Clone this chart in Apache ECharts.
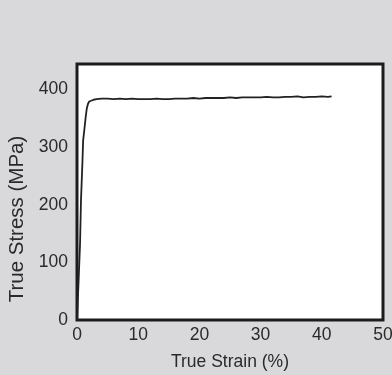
<!DOCTYPE html>
<html>
<head>
<meta charset="utf-8">
<script src="https://cdn.jsdelivr.net/npm/echarts@6/dist/echarts.min.js"></script>
<style>
  html, body { margin: 0; padding: 0; background: #d9d9db; }
  #chart { width: 392px; height: 375px; }
</style>
</head>
<body>
<div id="chart"></div>
<script>
// True strain (%) sample points
var strain = [0, 0.25, 0.5, 0.65, 0.9, 1.0, 1.2, 1.4, 1.6, 1.8, 2.0, 2.3, 2.7, 3.2,
  4, 5, 6, 7, 8, 9, 10, 11, 12, 13, 14, 15, 16, 17, 18, 19, 20, 21, 22, 23, 24,
  25, 26, 27, 28, 29, 30, 31, 32, 33, 34, 35, 36, 37, 38, 39, 40, 41, 41.6];
// True stress (MPa) at each strain point
var stress = [0, 65, 133, 207, 277, 311, 330, 350, 367, 375, 379, 381, 382, 383,
  384, 384, 383, 384, 383, 384, 383, 383, 383, 384, 383, 383, 384, 384, 384, 385,
  384, 385, 385, 385, 385, 386, 385, 386, 386, 386, 386, 387, 386, 386, 387, 387,
  388, 386, 387, 387, 388, 387, 388];

var xTicks = { min: 0, max: 50, interval: 10 };
var yTicks = { min: 0, max: 444, interval: 100 };

var font = "'Liberation Sans Narrow', 'Liberation Sans', Arial, sans-serif";

var points = strain.map(function (s, i) { return [s, stress[i]]; });

var chart = echarts.init(document.getElementById('chart'));
chart.setOption({
  backgroundColor: '#d9d9db',
  animation: false,
  grid: {
    left: 77, right: 9, top: 64, bottom: 55,
    outerBoundsMode: 'none',
    containLabel: false,
    show: true,
    backgroundColor: '#ffffff',
    borderColor: '#1c1c1c',
    borderWidth: 3
  },
  xAxis: {
    type: 'value',
    min: xTicks.min, max: xTicks.max, interval: xTicks.interval,
    name: 'True Strain (%)',
    nameLocation: 'middle',
    nameGap: 33,
    nameTextStyle: { color: '#2a2a2a', fontFamily: font, fontSize: 17.5 },
    axisLine: { show: false },
    axisTick: { show: false },
    splitLine: { show: false },
    axisLabel: { color: '#2a2a2a', fontFamily: font, fontSize: 17.5, margin: 6 }
  },
  yAxis: {
    type: 'value',
    min: yTicks.min, max: yTicks.max, interval: yTicks.interval,
    name: 'True Stress (MPa)',
    nameLocation: 'middle',
    nameGap: 41,
    nameTextStyle: { color: '#2a2a2a', fontFamily: font, fontSize: 20.5, padding: [0, 54, 0, 0] },
    axisLine: { show: false },
    axisTick: { show: false },
    splitLine: { show: false },
    axisLabel: { color: '#2a2a2a', fontFamily: font, fontSize: 17.5, margin: 9, showMaxLabel: false }
  },
  series: [{
    type: 'line',
    data: points,
    symbol: 'none',
    lineStyle: { color: '#222222', width: 1.8 }
  }]
});
</script>
</body>
</html>
